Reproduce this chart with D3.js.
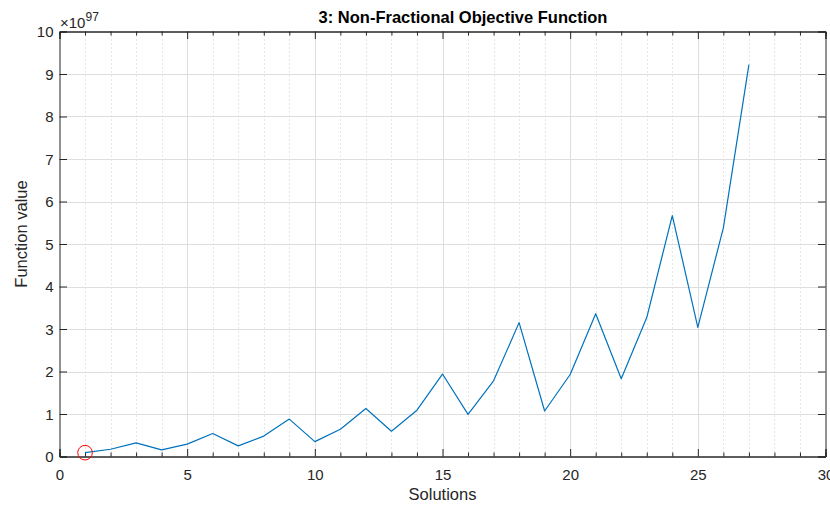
<!DOCTYPE html>
<html><head><meta charset="utf-8">
<script src="https://cdn.jsdelivr.net/npm/d3@7"></script>
<style>
html,body{margin:0;padding:0;background:#fff;}
svg{display:block;font-family:"Liberation Sans",Arial,Helvetica,sans-serif;}
</style></head><body>
<svg id="chart" width="830" height="506"></svg>
<script>
const solutions = [1,2,3,4,5,6,7,8,9,10,11,12,13,14,15,16,17,18,19,20,21,22,23,24,25,26,27];
const values = [0.09,0.17,0.32,0.155,0.29,0.54,0.25,0.48,0.88,0.35,0.64,1.13,0.595,1.09,1.94,0.99,1.78,3.15,1.07,1.93,3.36,1.83,3.27,5.67,3.04,5.38,9.22];
const exponent = 97;
const xTicks = [0,5,10,15,20,25,30];
const xMinor = d3.range(0,31,1);
const yTicks = [0,1,2,3,4,5,6,7,8,9,10];
const highlight = {x:1, y:0.09};
const titleText = "3: Non-Fractional Objective Function";
const xLabel = "Solutions";
const yLabel = "Function value";

const svg = d3.select("#chart");
const L = 59.5, R = 825.5, T = 31.5, B = 456.5;
const x = d3.scaleLinear().domain([0,30]).range([L,R]);
const y = d3.scaleLinear().domain([0,10]).range([B,T]);
const axisCol = "#262626";

// minor grid (x)
svg.append("g").selectAll("line").data(xMinor.filter(d=>d%5!==0)).join("line")
  .attr("x1",d=>Math.round(x(d))+0.5).attr("x2",d=>Math.round(x(d))+0.5)
  .attr("y1",T).attr("y2",B)
  .attr("stroke","#cfcfcf").attr("stroke-width",1).attr("stroke-dasharray","1,3");
// major grid
svg.append("g").selectAll("line").data(xTicks.slice(1,-1)).join("line")
  .attr("x1",d=>Math.round(x(d))+0.5).attr("x2",d=>Math.round(x(d))+0.5)
  .attr("y1",T).attr("y2",B).attr("stroke","#dedede").attr("stroke-width",1);
svg.append("g").selectAll("line").data(yTicks.slice(1,-1)).join("line")
  .attr("y1",d=>Math.round(y(d))+0.5).attr("y2",d=>Math.round(y(d))+0.5)
  .attr("x1",L).attr("x2",R).attr("stroke","#dedede").attr("stroke-width",1);

// axes via d3 axis
const fs = "15px";
const xAxis = svg.append("g").attr("transform",`translate(0,${B})`)
  .call(d3.axisBottom(x).tickValues(xTicks).tickSize(-7.5).tickPadding(13).tickFormat(d3.format("d")));
const xAxisMinor = svg.append("g").attr("transform",`translate(0,${B})`)
  .call(d3.axisBottom(x).tickValues(xMinor.filter(d=>d%5!==0)).tickSize(-4).tickFormat(""));
const xTop = svg.append("g").attr("transform",`translate(0,${T})`)
  .call(d3.axisTop(x).tickValues(xTicks).tickSize(-7.5).tickFormat(""));
const xTopMinor = svg.append("g").attr("transform",`translate(0,${T})`)
  .call(d3.axisTop(x).tickValues(xMinor.filter(d=>d%5!==0)).tickSize(-4).tickFormat(""));
const yAxis = svg.append("g").attr("transform",`translate(${L},0)`)
  .call(d3.axisLeft(y).tickValues(yTicks).tickSize(-7.5).tickPadding(6).tickFormat(d3.format("d")));
const yRight = svg.append("g").attr("transform",`translate(${R},0)`)
  .call(d3.axisRight(y).tickValues(yTicks).tickSize(-7.5).tickFormat(""));
[xAxis,xAxisMinor,xTop,xTopMinor,yAxis,yRight].forEach(g=>{
  g.selectAll("path.domain").attr("stroke",axisCol).attr("stroke-width",1);
  g.selectAll(".tick line").attr("stroke",axisCol).attr("stroke-width",1);
  g.selectAll(".tick text").attr("fill",axisCol).attr("font-size",fs)
    .attr("font-family","Liberation Sans, Arial, sans-serif");
});
yAxis.selectAll(".tick text").attr("dy","0.36em");

// line
svg.append("path").datum(solutions.map((s,i)=>[s,values[i]]))
  .attr("fill","none").attr("stroke","#0072BD").attr("stroke-width",1.2)
  .attr("stroke-linejoin","round")
  .attr("d", d3.line().x(d=>x(d[0])).y(d=>y(d[1])));

// highlight circle
svg.append("circle").attr("cx",x(highlight.x)).attr("cy",y(highlight.y)).attr("r",7.3)
  .attr("fill","none").attr("stroke","#ff0000").attr("stroke-width",1);

// exponent label
const ex = svg.append("text").attr("x",60).attr("y",27.5).attr("fill",axisCol)
  .attr("font-size","15px");
ex.append("tspan").text("\u00d710");
ex.append("tspan").attr("font-size","12px").attr("dy","-7").text(exponent);

// title
svg.append("text").attr("x",463).attr("y",23).attr("text-anchor","middle")
  .attr("font-weight","bold").attr("font-size","16.5px").attr("fill","#000").text(titleText);
// x label
svg.append("text").attr("x",(L+R)/2).attr("y",499.5).attr("text-anchor","middle")
  .attr("font-size","16.5px").attr("fill",axisCol).text(xLabel);
// y label
svg.append("text").attr("transform","translate(27,234) rotate(-90)").attr("text-anchor","middle")
  .attr("font-size","16.5px").attr("fill",axisCol).text(yLabel);
</script>
</body></html>
